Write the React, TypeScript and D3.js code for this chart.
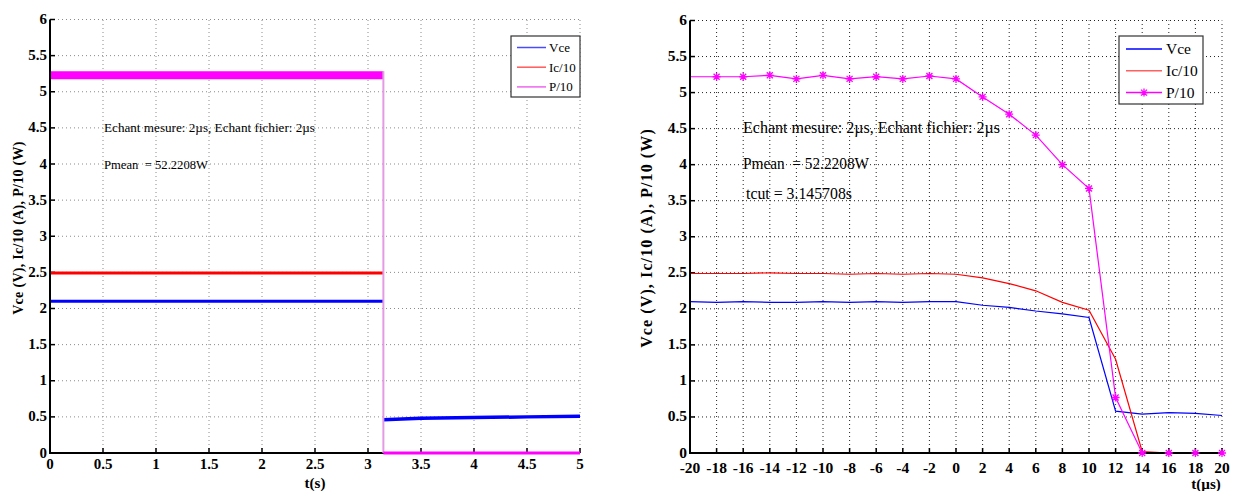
import React from "react";
import * as d3 from "d3";

// ---------- Data ----------
const yTickValues = [0, 0.5, 1, 1.5, 2, 2.5, 3, 3.5, 4, 4.5, 5, 5.5, 6];
const leftXTicks = [0, 0.5, 1, 1.5, 2, 2.5, 3, 3.5, 4, 4.5, 5];
const rightXTicks = [-20, -18, -16, -14, -12, -10, -8, -6, -4, -2, 0, 2, 4, 6, 8, 10, 12, 14, 16, 18, 20];

// Left chart (t in s)
const leftCut = 3.145;
const leftVceOnT = [0, 3.145];
const leftVceOn = [2.1, 2.1];
const leftVceOffT = [3.145, 3.5, 4, 4.5, 5];
const leftVceOff = [0.46, 0.48, 0.49, 0.5, 0.51];
const leftIcT = [0, 3.145];
const leftIc = [2.49, 2.49];
const leftPOnT = [0, 3.145];
const leftPOn = [5.23, 5.23];
const leftPOffT = [3.145, 5];
const leftPOff = [0, 0];

// Right chart (t in µs)
const rightT = [-20, -18, -16, -14, -12, -10, -8, -6, -4, -2, 0, 2, 4, 6, 8, 10, 12, 14, 16, 18, 20];
const rightVce = [2.1, 2.09, 2.1, 2.09, 2.09, 2.1, 2.09, 2.1, 2.09, 2.1, 2.1, 2.05, 2.02, 1.97, 1.93, 1.88, 0.58, 0.54, 0.56, 0.55, 0.52];
const rightIc = [2.49, 2.49, 2.49, 2.5, 2.49, 2.49, 2.48, 2.49, 2.48, 2.49, 2.48, 2.43, 2.35, 2.25, 2.09, 1.98, 1.3, 0.02, 0, 0, 0];
const rightP = [5.22, 5.22, 5.22, 5.24, 5.19, 5.24, 5.19, 5.22, 5.19, 5.23, 5.19, 4.94, 4.7, 4.41, 4.0, 3.67, 0.77, 0, 0, 0, 0];

const seriesNames = ["Vce", "Ic/10", "P/10"];
const annotation1 = "Echant mesure: 2\u00b5s, Echant fichier: 2\u00b5s";
const annotation2 = "Pmean  = 52.2208W";
const annotation3 = "tcut = 3.145708s";
const leftXLabel = "t(s)";
const rightXLabel = "t(\u00b5s)";
const yLabel = "Vce (V), Ic/10 (A), P/10 (W)";

const FONT = "'Liberation Serif', 'Times New Roman', serif";
const BLUE = "#0000ff";
const RED = "#ff0000";
const MAG = "#ff00ff";

type Pt = [number, number];
const zip = (xs: number[], ys: number[]): Pt[] => xs.map((x, i) => [x, ys[i]]);

function Frame({
  x,
  y,
  xTicks,
  xLabel,
  xLabelPos,
  yLabelPos,
  yLabelSize,
  yLabelSpacing,
  gridColor,
  xLabelBaseline,
  tickSize,
}: {
  x: d3.ScaleLinear<number, number>;
  y: d3.ScaleLinear<number, number>;
  xTicks: number[];
  xLabel: string;
  xLabelPos: [number, number];
  yLabelPos: [number, number];
  yLabelSize: number;
  yLabelSpacing: number;
  gridColor: string;
  xLabelBaseline: number;
  tickSize: number;
}) {
  const [x0, x1] = x.range();
  const [y0, y1] = y.range();
  return (
    <g>
      {xTicks.slice(1).map((t) => (
        <line key={"gx" + t} x1={x(t)} x2={x(t)} y1={y0} y2={y1} stroke={gridColor} strokeWidth={1} strokeDasharray="1,3" />
      ))}
      {yTickValues.slice(1).map((t) => (
        <line key={"gy" + t} x1={x0} x2={x1} y1={y(t)} y2={y(t)} stroke={gridColor} strokeWidth={1} strokeDasharray="1,3" />
      ))}
      {xTicks.map((t) => (
        <line key={"tx" + t} x1={x(t)} x2={x(t)} y1={y0} y2={y0 - 5} stroke="#000" strokeWidth={1.5} />
      ))}
      {yTickValues.map((t) => (
        <line key={"ty" + t} x1={x0} x2={x0 + 5} y1={y(t)} y2={y(t)} stroke="#000" strokeWidth={1.5} />
      ))}
      {xTicks.map((t) => (
        <text key={"lx" + t} x={x(t)} y={xLabelBaseline} textAnchor="middle" fontFamily={FONT} fontWeight="bold" fontSize={tickSize}>
          {String(t)}
        </text>
      ))}
      {yTickValues.map((t) => (
        <text key={"ly" + t} x={x0 - 3} y={y(t) + 4.5} textAnchor="end" fontFamily={FONT} fontWeight="bold" fontSize={tickSize}>
          {String(t)}
        </text>
      ))}
      <text x={xLabelPos[0]} y={xLabelPos[1]} textAnchor="middle" fontFamily={FONT} fontWeight="bold" fontSize={15}>
        {xLabel}
      </text>
      <text
        transform={`translate(${yLabelPos[0]},${yLabelPos[1]}) rotate(-90)`}
        textAnchor="middle"
        fontFamily={FONT}
        fontWeight="bold"
        fontSize={yLabelSize}
        letterSpacing={yLabelSpacing}
      >
        {yLabel}
      </text>
    </g>
  );
}

function Axes({ x, y }: { x: d3.ScaleLinear<number, number>; y: d3.ScaleLinear<number, number> }) {
  const [x0, x1] = x.range();
  const [y0, y1] = y.range();
  return (
    <g>
      <line x1={x0} x2={x0} y1={y0 + 1} y2={y1} stroke="#000" strokeWidth={2} />
      <line x1={x0 - 1} x2={x1} y1={y0} y2={y0} stroke="#000" strokeWidth={2} />
    </g>
  );
}

const starPath = "M-4,0L4,0M0,-4L0,4M-3,-3L3,3M-3,3L3,-3";
const pre: React.CSSProperties = { whiteSpace: "pre" };

export default function App() {
  const lx = d3.scaleLinear().domain([0, 5]).range([50, 580]);
  const ly = d3.scaleLinear().domain([0, 6]).range([453, 19.5]);
  const rx = d3.scaleLinear().domain([-20, 20]).range([690, 1222]);
  const ry = d3.scaleLinear().domain([0, 6]).range([453, 20.5]);

  const lLine = d3
    .line<Pt>()
    .x((d) => lx(d[0]))
    .y((d) => ly(d[1]));
  const rLine = d3
    .line<Pt>()
    .x((d) => rx(d[0]))
    .y((d) => ry(d[1]));

  const rightData = [
    { name: seriesNames[0], color: BLUE, pts: zip(rightT, rightVce) },
    { name: seriesNames[1], color: RED, pts: zip(rightT, rightIc) },
    { name: seriesNames[2], color: MAG, pts: zip(rightT, rightP) },
  ];

  const leftLegendColors = ["#4a4aff", "#ff5a5a", "#ee66ee"];
  const rightLegendColors = [BLUE, "#ff6060", MAG];

  return (
    <svg
      width={1236}
      height={491}
      style={{ position: "absolute", left: 0, top: 0, background: "#fff" }}
      xmlns="http://www.w3.org/2000/svg"
    >
      <rect x={0} y={0} width={1236} height={491} fill="#fff" />

      {/* ---------------- LEFT CHART ---------------- */}
      <Frame
        x={lx}
        y={ly}
        xTicks={leftXTicks}
        xLabel={leftXLabel}
        xLabelPos={[315, 488]}
        yLabelPos={[23, 228]}
        yLabelSize={14}
        yLabelSpacing={0.3}
        gridColor="#8a8a8a"
        xLabelBaseline={469}
        tickSize={15}
      />
      <path d={lLine(zip(leftPOnT, leftPOn)) || ""} stroke={MAG} strokeWidth={8} fill="none" />
      <path d={lLine(zip(leftIcT, leftIc)) || ""} stroke={RED} strokeWidth={3} fill="none" />
      <path d={lLine(zip(leftVceOnT, leftVceOn)) || ""} stroke={BLUE} strokeWidth={3} fill="none" />
      <path d={lLine(zip(leftVceOffT, leftVceOff)) || ""} stroke={BLUE} strokeWidth={3.5} fill="none" />
      <Axes x={lx} y={ly} />
      <line
        x1={lx(leftCut)}
        x2={lx(leftCut)}
        y1={ly(leftPOn[1]) - 4}
        y2={ly(0)}
        stroke="#e39be3"
        strokeWidth={2}
      />
      <path d={lLine(zip(leftPOffT, leftPOff)) || ""} stroke={MAG} strokeWidth={3} fill="none" />

      <text x={104} y={132} fontFamily={FONT} fontSize={13.5} textLength={211} lengthAdjust="spacingAndGlyphs" style={pre}>
        {annotation1}
      </text>
      <text x={104} y={169} fontFamily={FONT} fontSize={13.5} textLength={104} lengthAdjust="spacingAndGlyphs" style={pre}>
        {annotation2}
      </text>

      {/* left legend */}
      <rect x={511} y={36} width={69} height={61} fill="#fff" stroke="#333" strokeWidth={1.2} />
      {seriesNames.map((n, i) => (
        <g key={"ll" + n}>
          <line x1={517} x2={546} y1={47.5 + i * 19.7} y2={47.5 + i * 19.7} stroke={leftLegendColors[i]} strokeWidth={1.5} />
          <text x={549} y={47.5 + i * 19.7 + 4.5} fontFamily={FONT} fontSize={13}>
            {n}
          </text>
        </g>
      ))}

      {/* ---------------- RIGHT CHART ---------------- */}
      <Frame
        x={rx}
        y={ry}
        xTicks={rightXTicks}
        xLabel={rightXLabel}
        xLabelPos={[1206, 489]}
        yLabelPos={[652, 238]}
        yLabelSize={16}
        yLabelSpacing={1.1}
        gridColor="#222"
        xLabelBaseline={473}
        tickSize={15.5}
      />
      {rightData.map((s) => (
        <path key={s.name} d={rLine(s.pts) || ""} stroke={s.color} strokeWidth={1.2} fill="none" />
      ))}
      <Axes x={rx} y={ry} />
      {rightData[2].pts
        .filter((p) => p[0] > -20)
        .map((p) => (
          <path key={"m" + p[0]} d={starPath} transform={`translate(${rx(p[0])},${ry(p[1])})`} stroke={MAG} strokeWidth={1.3} fill="none" />
        ))}

      <text x={743} y={133} fontFamily={FONT} fontSize={16} textLength={257} lengthAdjust="spacingAndGlyphs" style={pre}>
        {annotation1}
      </text>
      <text x={743} y={169} fontFamily={FONT} fontSize={16} textLength={126} lengthAdjust="spacingAndGlyphs" style={pre}>
        {annotation2}
      </text>
      <text x={746} y={199} fontFamily={FONT} fontSize={16} textLength={106} lengthAdjust="spacingAndGlyphs" style={pre}>
        {annotation3}
      </text>

      {/* right legend */}
      <rect x={1119} y={36} width={84} height={68} fill="#fff" stroke="#333" strokeWidth={1.2} />
      {seriesNames.map((n, i) => {
        const yy = 49 + i * 21.8;
        return (
          <g key={"rl" + n}>
            <line x1={1126} x2={1162} y1={yy} y2={yy} stroke={rightLegendColors[i]} strokeWidth={1.5} />
            {i === 2 && <path d={starPath} transform={`translate(${1144},${yy})`} stroke={MAG} strokeWidth={1.3} fill="none" />}
            <text x={1166} y={yy + 5} fontFamily={FONT} fontSize={15.5}>
              {n}
            </text>
          </g>
        );
      })}
    </svg>
  );
}
